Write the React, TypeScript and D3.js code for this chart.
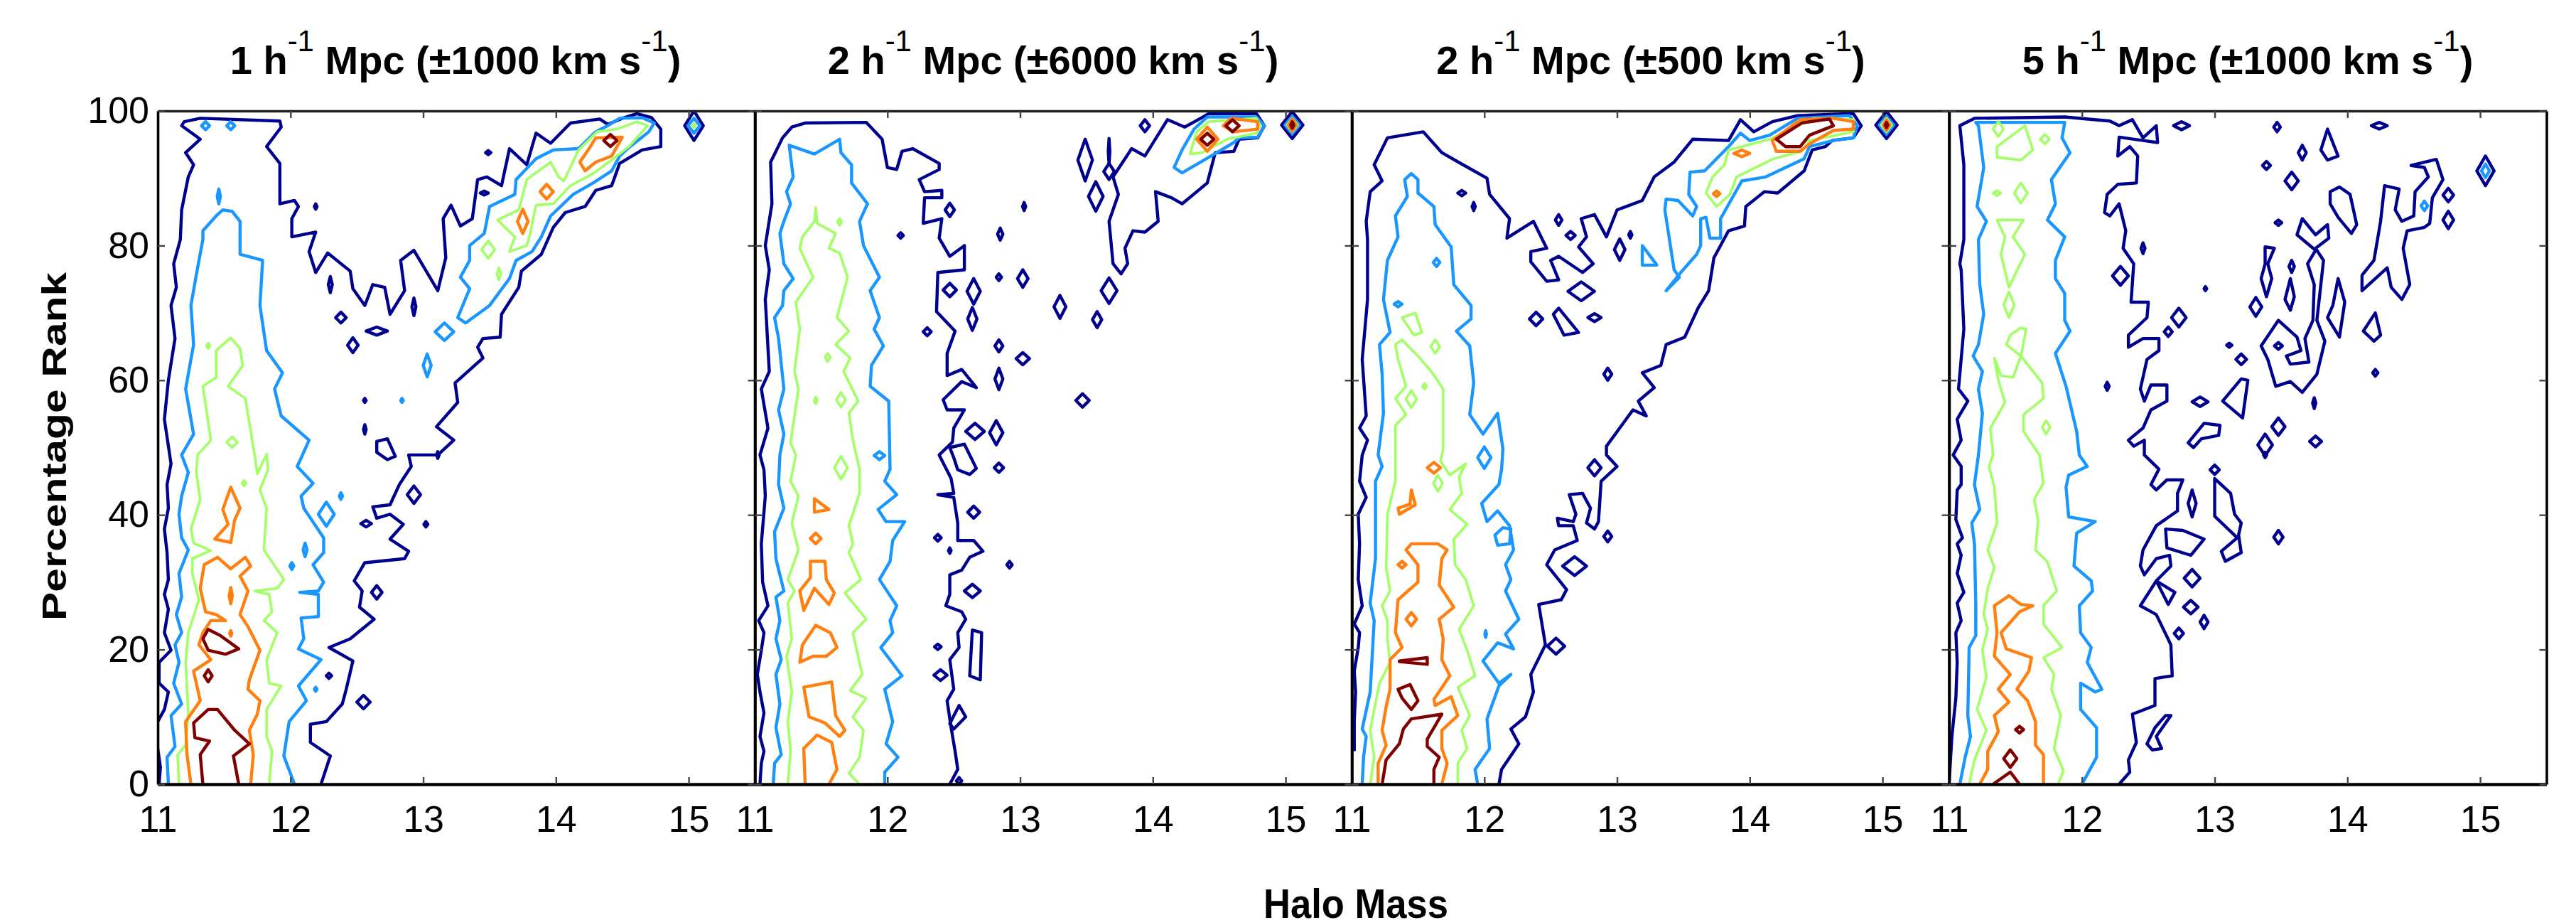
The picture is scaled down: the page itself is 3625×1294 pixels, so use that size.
import React, { useEffect, useRef } from 'react';
import * as d3 from 'd3';

// contour traces: flat [mass, rank, mass, rank, ...], spots: [mass, rank, halfMass, halfRank]
const levelColors = ['#00008f', '#1a96ff', '#a2ff66', '#ff7f10', '#800000'];
const massTicks = [11, 12, 13, 14, 15];
const rankTicks = [0, 20, 40, 60, 80, 100];
const titleHeads = ['1 h', '2 h', '2 h', '5 h'];
const titleTails = [' Mpc (±1000 km s', ' Mpc (±6000 km s', ' Mpc (±500 km s', ' Mpc (±1000 km s'];

// ---- panel 1
const p1NavyOpen = [
  [11.01,0, 11.02,2.5, 11.0,5.3],
  [11.0,9.3, 11.05,11.1, 11.08,13.7, 11.01,15, 11.01,18.1, 11.1,19.9, 11.05,22.5, 11.08,26, 11.05,28.2, 11.08,30.4, 11.07,34.4, 11.05,37.9, 11.08,41, 11.07,44.5, 11.1,47.6, 11.05,54.2, 11.08,60, 11.13,66.2, 11.1,71.1, 11.14,73.8, 11.12,77.3, 11.17,80.9, 11.18,85.3, 11.23,90.2, 11.27,92, 11.21,93.8, 11.32,95.8, 11.18,97.8, 11.2,98.4, 11.32,98.9, 11.92,98.5, 11.93,97.6, 11.82,94.7, 11.92,92.2, 11.92,86.2, 12.03,86.7, 12.06,85.8, 12.01,84, 12.01,81.3, 12.19,82, 12.14,79.1, 12.19,76, 12.28,78.9, 12.45,76.2, 12.47,73.6, 12.56,71.1, 12.62,74.2, 12.71,73.8, 12.75,69.8, 12.86,73.3, 12.83,77.8, 12.93,79.3, 13.11,73.3, 13.17,78.2, 13.15,84, 13.21,86, 13.28,82.9, 13.37,84, 13.41,89.8, 13.48,90.2, 13.59,88.9, 13.65,94.4, 13.78,92, 13.85,96.7, 13.96,95.2, 14.11,98.2, 14.33,98.8, 14.39,98, 14.5,98.9, 14.61,99.6, 14.72,99, 14.79,97.3, 14.79,94.7, 14.65,94.2, 14.48,92.2, 14.42,88.9, 14.3,88.2, 14.22,85.8, 14.07,84.9, 13.98,82.7, 13.89,78.7, 13.74,76.2, 13.72,73.8, 13.59,69.8, 13.58,66.4, 13.45,66.2, 13.41,64.9, 13.45,63.3, 13.24,59.6, 13.26,56.7, 13.1,53.1, 13.23,51.1, 13.11,48.9, 12.89,48.9, 12.91,47.2, 12.82,44.5, 12.75,41.5, 12.62,41.2, 12.65,39.5, 12.75,40.1, 12.85,38.6, 12.75,36.4, 12.89,34.6, 12.86,33.5, 12.56,32.9, 12.48,30.2, 12.54,28.7, 12.52,26.3, 12.63,24.5, 12.45,21.6, 12.29,20.3, 12.47,18.3, 12.42,14.1, 12.39,11.9, 12.27,9.3, 12.15,8.9, 12.15,6.2, 12.3,4.2, 12.23,0],
];
const p1NavyLoops = [[12.65,50.9, 12.73,51.3, 12.79,48.7, 12.73,48.2, 12.65,49.3]];
const p1NavySpots = [[13.49,93.8,.02,.3],[13.46,87.8,.03,.3],[12.19,85.8,.01,.4],[12.3,74.2,.015,1.2],[12.38,69.3,.04,.8],[12.65,67.3,.08,.6],[12.47,65.2,.04,1.1],[12.93,70.9,.015,1.3],[12.56,57,.01,.3],[12.56,52.7,.01,.7],[12.93,43,.05,1.3],[12.57,38.7,.04,.5],[13.02,38.6,.015,.4],[12.65,28.5,.04,1],[12.29,16.1,.02,.4],[12.55,12.2,.05,1],[13.11,48.9,.01,.5],[15.04,97.8,.07,2.2]];
const p1SkyOpen = [
  [11.08,0, 11.07,4, 11.13,5.6, 11.1,10.2, 11.18,11.9, 11.12,15, 11.16,18.1, 11.13,20.7, 11.18,22.5, 11.14,25.2, 11.18,27.8, 11.16,31.3, 11.23,34.8, 11.18,36.6, 11.16,40.1, 11.18,42.8, 11.23,46.3, 11.18,48.9, 11.27,52, 11.21,58.7, 11.27,65.3, 11.25,71.1, 11.29,75.6, 11.34,80.9, 11.34,82.2, 11.44,84.4, 11.49,85.3, 11.56,85.1, 11.62,83.6, 11.62,78.7, 11.79,77.8, 11.77,71.1, 11.82,64.4, 11.94,61.1, 11.88,58.7, 11.93,54.7, 12.14,51.1, 12.07,48, 12.05,47.2, 12.17,44.7, 12.08,42.8, 12.1,41, 12.25,36.6, 12.25,34.4, 12.17,32.6, 12.25,30, 12.21,28.7, 12.07,28.5, 12.21,28.2, 12.21,24.9, 12.08,24.7, 12.1,21.6, 12.06,20.1, 12.23,18.5, 12.06,14.6, 12.12,12.4, 11.99,9.3, 11.95,4.2, 12.03,0],
];
const p1SkyLoops = [[13.26,69.3, 13.32,68.5, 13.5,71.1, 13.65,75.1, 13.7,77.8, 13.82,79.1, 13.89,81.3, 13.96,84.4, 14.13,87.6, 14.28,89.3, 14.42,91.1, 14.48,93.3, 14.54,94.4, 14.7,96.9, 14.74,98.2, 14.65,99, 14.48,98.9, 14.39,97.8, 14.3,96.9, 14.17,94.4, 13.98,94.2, 13.85,92.9, 13.7,89.8, 13.69,87.6, 13.5,85.8, 13.46,81.8, 13.35,80, 13.35,77.8, 13.28,75.3, 13.35,73.6]];
const p1SkySpots = [[11.36,97.8,.03,.6],[11.55,97.8,.03,.6],[11.46,87.3,.012,1.1],[13.16,67.2,.07,1.3],[13.03,62.2,.03,1.7],[12.84,57,.01,.3],[12.38,42.8,.012,.5],[12.27,40.1,.06,1.8],[12.11,34.8,.015,1],[12.01,32.4,.015,.5],[12.19,14.1,.01,.3],[15.04,97.8,.045,1.1]];
const p1GreenOpen = [
  [11.16,0, 11.15,4.4, 11.21,5.8, 11.23,10.6, 11.21,18.1, 11.23,22.5, 11.31,27.4, 11.26,31.3, 11.26,33.5, 11.4,34.7, 11.27,35.8, 11.25,37.9, 11.32,42.3, 11.29,46.3, 11.3,48.9, 11.4,51.1, 11.34,59.1, 11.44,60.4, 11.44,64.4, 11.55,66.3, 11.62,64.7, 11.64,62.2, 11.53,59.1, 11.66,57.3, 11.73,48.9, 11.75,46.1, 11.82,49, 11.83,46.7, 11.77,43.7, 11.82,41, 11.8,34.8, 11.95,30.4, 11.9,29.1, 11.73,28.7, 11.84,28.2, 11.86,25.6, 11.8,24.3, 11.9,22.5, 11.82,18.5, 11.84,15, 11.93,14.6, 11.82,11.1, 11.82,7.1, 11.86,4.9, 11.84,0],
];
const p1GreenLoops = [[13.56,83.8, 13.72,85.3, 13.78,89.8, 13.96,92.4, 14.02,90.2, 14.06,89.6, 14.17,94.2, 14.31,96.9, 14.46,97.3, 14.61,98.4, 14.69,97.8, 14.55,94.7, 14.42,92.7, 14.28,90.7, 14.11,88.9, 13.98,86.2, 13.85,86, 13.8,81.3, 13.78,80, 13.65,79.1, 13.69,81.3]];
const p1GreenSpots = [[13.49,79.4,.05,1.3],[13.57,75.8,.015,.9],[11.38,65.1,.012,.4],[11.56,50.8,.04,.8],[11.65,44.7,.015,.4],[15.04,97.8,.01,.3]];
const p1OrangeOpen = [
  [11.25,0, 11.22,4.4, 11.21,9.3, 11.32,12.4, 11.27,16.8, 11.4,18.5, 11.31,20.7, 11.34,22.5, 11.4,24.3, 11.51,24.3, 11.44,25.2, 11.36,25.6, 11.32,29.1, 11.35,32.6, 11.45,33.7, 11.55,32, 11.66,33.7, 11.7,32.4, 11.62,30.9, 11.68,28.7, 11.62,25.2, 11.68,23.4, 11.77,19.9, 11.69,15.5, 11.68,14.1, 11.77,12.4, 11.75,10.4, 11.69,8, 11.72,4.4, 11.7,0],
];
const p1OrangeLoops = [
  [11.55,44.1, 11.62,41, 11.58,39.3, 11.55,35.9, 11.43,36.4, 11.53,38.6, 11.49,40.8],
  [14.3,96, 14.5,96.1, 14.42,93.3, 14.3,92.4, 14.22,91.1, 14.18,92.4, 14.26,94.7],
];
const p1OrangeSpots = [[11.55,28,.012,1.2],[11.55,22.4,.008,.4],[13.93,88,.05,1.1],[13.75,83.6,.04,1.8]];
const p1RedOpen = [[11.34,0, 11.32,4.4, 11.39,6.4, 11.28,6.9, 11.27,9.1, 11.38,11.1, 11.45,11.1, 11.58,8, 11.69,6, 11.57,4.2, 11.61,0]];
const p1RedLoops = [[11.38,23, 11.47,22.1, 11.61,20.1, 11.51,19.3, 11.38,19.9, 11.34,21.6]];
const p1RedSpots = [[14.41,95.6,.05,.9],[11.38,16.1,.03,.9]];

// ---- panel 2
const p2NavyOpen = [
  [11.04,0, 11.05,3.1, 11.07,4.9, 11.04,7.1, 11.07,10.6, 11.04,13.7, 11.02,16.3, 11.05,19.9, 11.07,22.5, 11.03,24.3, 11.1,26.5, 11.06,30, 11.05,35.7, 11.08,42.8, 11.07,46.7, 11.04,48.9, 11.1,52.9, 11.05,58.7, 11.11,61.3, 11.08,72, 11.11,76.4, 11.08,80, 11.13,86.2, 11.12,92.4, 11.21,96, 11.28,97.6, 11.38,98.2, 11.84,98.3, 11.96,95.8, 12,91.6, 12.07,91.3, 12.11,94, 12.19,94.4, 12.39,92.2, 12.39,91.3, 12.24,89.8, 12.28,88, 12.41,88.2, 12.41,87.1, 12.28,87.1, 12.27,83.3, 12.41,84, 12.39,81.1, 12.47,78.4, 12.58,80, 12.58,76.4, 12.38,76, 12.37,70.2, 12.51,67.3, 12.45,64, 12.45,60.7, 12.56,61.6, 12.67,58.9, 12.56,59.8, 12.42,57.1, 12.45,55.6, 12.58,55.6, 12.5,52.9, 12.49,50.8, 12.39,48.9, 12.48,45.4, 12.5,43.2, 12.38,43, 12.5,42.6, 12.53,38.8, 12.53,36.2, 12.65,36.2, 12.72,34.6, 12.62,33.7, 12.56,31.8, 12.47,31.1, 12.47,28.2, 12.44,26.5, 12.56,25.6, 12.59,24.5, 12.53,22.5, 12.54,20.3, 12.47,18.5, 12.5,14.1, 12.45,12.4, 12.48,8.4, 12.51,4.9, 12.53,2.2, 12.47,0],
];
const p2NavyLoops = [
  [13.76,75.8, 13.7,77.3, 13.67,83.6, 13.74,87.6, 13.7,90.2, 13.79,92.9, 13.84,94.4, 13.94,93.3, 14.11,98.7, 14.24,97.6, 14.36,98.9, 14.42,99.6, 14.78,99.6, 14.84,97.8, 14.79,96, 14.65,95.8, 14.61,94, 14.47,93.8, 14.41,89.3, 14.22,86.2, 14.14,87.1, 14.02,88, 14.04,83.6, 13.94,82, 13.85,82.2, 13.79,79.6, 13.81,77.3],
  [12.54,11.7, 12.59,10, 12.5,8.2, 12.47,9],
  [12.64,22.9, 12.71,22.5, 12.7,15.5, 12.62,16.1],
  [12.47,50, 12.58,50.5, 12.67,46.9, 12.62,46, 12.53,46.7, 12.5,48.5],
];
const p2NavySpots = [[12.54,.5,.02,.5],[13.94,97.8,.035,.9],[13.49,92.7,.055,3.1],[13.67,91,.04,1.2],[13.67,94,.006,1.9],[13.57,87.3,.055,2.2],[12.47,85.3,.035,1],[13.03,85.8,.012,.6],[12.1,81.5,.02,.4],[12.85,81.7,.02,.9],[12.84,75.3,.02,.5],[13.02,75.1,.04,1.3],[13.67,73.3,.06,1.9],[12.47,73.4,.05,1],[12.65,73.2,.05,1.9],[13.3,70.9,.045,1.7],[12.64,69.1,.035,1.7],[13.58,69,.035,1.2],[12.3,67.2,.03,.6],[12.84,65.1,.03,.9],[13.02,63.2,.05,.9],[12.84,60.2,.03,1.6],[13.47,57,.05,1],[12.66,52.4,.07,1.2],[12.82,52.2,.05,1.8],[12.84,47,.035,.7],[12.65,40.4,.045,.9],[12.38,36.6,.025,.5],[12.47,34.7,.01,.4],[12.92,32.6,.02,.5],[12.64,28.7,.06,1],[12.38,20.4,.025,.4],[12.4,16.2,.05,.8],[15.05,97.9,.08,2]];
const p2SkyOpen = [
  [11.14,0, 11.15,3.1, 11.2,4.4, 11.16,8.4, 11.19,11.9, 11.16,16.3, 11.2,18.5, 11.16,21.6, 11.19,24.3, 11.16,27.8, 11.22,28.7, 11.16,33.5, 11.15,37.5, 11.22,41, 11.18,44.5, 11.19,48.9, 11.22,52, 11.18,55.6, 11.22,58.7, 11.18,66.2, 11.15,69.3, 11.21,71.1, 11.22,73.3, 11.29,75.1, 11.22,77.3, 11.19,81.8, 11.22,83.6, 11.27,86.2, 11.24,88, 11.29,90.2, 11.26,94.9, 11.45,93.6, 11.64,95.8, 11.65,93.8, 11.73,92, 11.73,89.3, 11.85,86.2, 11.79,83.6, 11.82,80, 11.94,75.3, 11.87,73.3, 11.94,69.3, 11.9,67.6, 11.97,65.1, 11.88,62.2, 11.87,59.1, 12.01,56.9, 12.02,46.8, 11.98,45, 12.07,43, 11.93,40.8, 11.99,39, 12.13,39, 12.04,36.2, 12.02,33.1, 11.94,30.4, 12.07,26.5, 12.02,24.3, 12.04,22.5, 11.95,20.3, 12.11,16.1, 11.98,14.1, 12.04,9.3, 11.99,6, 12.08,4, 11.98,1.8, 11.98,0],
];
const p2SkyLoops = [[14.16,91.6, 14.22,90.8, 14.42,93.1, 14.61,95.3, 14.65,96, 14.79,96.1, 14.84,97.8, 14.78,99.1, 14.41,99.1, 14.31,97.3, 14.22,94.2]];
const p2SkySpots = [[11.94,48.8,.04,.6],[15.05,97.9,.055,1.3]];
const p2GreenOpen = [
  [11.25,0, 11.27,4.9, 11.25,9.3, 11.28,13.7, 11.24,19, 11.28,21.6, 11.25,26.9, 11.3,28.7, 11.25,30.4, 11.33,34.8, 11.28,38.8, 11.33,42.8, 11.27,45, 11.31,48.9, 11.27,50.7, 11.33,58.7, 11.3,61.3, 11.34,67.6, 11.31,71.6, 11.44,75.3, 11.34,79.6, 11.36,81.3, 11.45,83.6, 11.46,85.6, 11.47,83.3, 11.61,81.8, 11.56,79.6, 11.64,78.9, 11.7,75.3, 11.62,69.3, 11.71,67.3, 11.61,65.3, 11.72,63.3, 11.67,61.3, 11.78,56.9, 11.71,55.1, 11.74,51.1, 11.79,46.8, 11.79,43.2, 11.71,38.4, 11.74,35.7, 11.71,34.4, 11.8,30.4, 11.68,28.4, 11.84,24.5, 11.74,22.5, 11.81,16.3, 11.72,13.9, 11.84,12.8, 11.74,10, 11.82,8, 11.79,4, 11.71,1.6, 11.79,0],
];
const p2GreenLoops = [[14.28,93.6, 14.37,93.8, 14.56,95.8, 14.78,96.7, 14.81,97.8, 14.78,98.9, 14.42,98.4, 14.33,96.9]];
const p2GreenSpots = [[11.64,83.5,.015,.5],[11.55,63.4,.02,.6],[11.46,57,.012,.5],[11.65,57.1,.035,1.1],[11.65,47,.05,1.7],[15.05,97.9,.04,1]];
const p2OrangeOpen = [[11.38,0, 11.37,5.3, 11.47,7.3, 11.58,6.2, 11.62,2.2, 11.56,0]];
const p2OrangeLoops = [
  [14.53,97.8, 14.59,98.9, 14.79,98.4, 14.79,97.3, 14.61,96.9],
  [11.45,42.4, 11.56,40.8, 11.45,40.4],
  [11.42,33.1, 11.53,33.1, 11.54,30.4, 11.6,28.4, 11.56,26.7, 11.45,29.1, 11.37,25.8, 11.34,28.7, 11.42,30.7],
  [11.46,23.6, 11.57,22.5, 11.62,20.3, 11.54,19, 11.44,19, 11.34,18.1, 11.36,20.7],
  [11.37,14.4, 11.58,15.2, 11.61,10.2, 11.68,8, 11.64,7.1, 11.53,9.1, 11.41,10],
];
const p2OrangeSpots = [[14.41,95.8,.08,1.8],[11.46,36.5,.04,.8],[15.05,97.9,.03,.9]];
const p2RedSpots = [[14.41,95.8,.05,.9],[14.6,97.8,.05,.9],[15.05,97.9,.012,.5]];

// ---- panel 3
const p3NavyOpen = [
  [11.02,4.9, 11.02,9.3, 11.03,13.7, 11.02,16.8, 11.05,20.3, 11.06,22.5, 11.02,23.8, 11.08,26.5, 11.05,30.4, 11.06,35.7, 11.05,40.1, 11.11,42.6, 11.06,45, 11.08,48.9, 11.12,51.1, 11.06,52.9, 11.11,54.7, 11.08,63.1, 11.12,72, 11.12,80.9, 11.11,83.6, 11.14,88, 11.23,89.6, 11.17,92, 11.27,96, 11.54,96.9, 11.68,93.8, 11.84,92, 12.02,90, 12.04,87.6, 12.19,84, 12.17,81.1, 12.37,83.6, 12.47,79.6, 12.35,79.1, 12.35,77.6, 12.47,74.7, 12.56,74.9, 12.5,77.8, 12.56,78.4, 12.74,76, 12.82,77.3, 12.71,79.8, 12.77,81.3, 12.73,84, 12.83,84.6, 12.92,81.3, 13,85.3, 13.19,86.7, 13.28,90.2, 13.43,92.4, 13.57,95.8, 13.84,95.6, 13.93,98.7, 14.03,96.9, 14.17,98.4, 14.36,99.3, 14.78,99.6, 14.84,97.8, 14.78,96, 14.62,95.6, 14.57,94.7, 14.47,94.2, 14.41,91.1, 14.21,87.8, 14.11,88, 13.97,85.8, 13.96,82.9, 13.84,82.2, 13.73,78.2, 13.69,73.3, 13.61,70.7, 13.51,66.4, 13.37,65.3, 13.33,62.2, 13.19,61.1, 13.28,58.9, 13.16,56.9, 13.22,54.7, 13.12,55.6, 12.92,50.2, 12.92,48.9, 13,47.2, 12.88,45, 12.86,39, 12.83,37.9, 12.77,38.8, 12.8,41, 12.74,43.2, 12.64,43, 12.69,40.1, 12.67,39, 12.55,39.5, 12.56,38.4, 12.67,38.4, 12.7,36.2, 12.53,34.8, 12.47,32.6, 12.62,28.9, 12.58,27.4, 12.41,26.7, 12.46,20.7, 12.35,16.3, 12.37,13.7, 12.31,10, 12.2,8.2, 12.26,6, 12.13,2.2, 12.11,0],
];
const p3NavyLoops = [[12.52,69.8, 12.56,70.7, 12.71,67.1, 12.6,66.7]];
const p3NavySpots = [[12.54,20.5,.065,1.2],[11.83,87.8,.03,.4],[11.92,85.8,.012,.6],[12.56,83.8,.025,.8],[12.65,81.5,.035,.6],[13.1,81.6,.012,.5],[13.02,79.4,.04,1.6],[12.73,73.2,.1,1.4],[12.39,69.1,.05,1],[12.83,69.3,.05,.6],[12.93,60.9,.03,.9],[12.83,47,.05,1.2],[12.93,36.8,.03,.8],[12.68,32.4,.09,1.4],[15.03,97.9,.08,2]];
const p3SkyOpen = [
  [11.08,0, 11.09,4, 11.11,7.1, 11.08,8.2, 11.14,13.7, 11.17,24.3, 11.14,26.9, 11.18,33.5, 11.18,40.1, 11.18,45, 11.23,47.2, 11.2,48.9, 11.24,55.1, 11.23,60.9, 11.21,65.3, 11.29,67.1, 11.24,72, 11.27,77.8, 11.35,81.3, 11.33,84.4, 11.42,87.3, 11.4,89.8, 11.45,90.7, 11.5,89.8, 11.5,87.8, 11.62,85.8, 11.63,83.1, 11.75,79.8, 11.77,74.2, 11.9,71.1, 11.9,69.1, 11.79,67.3, 11.89,65.1, 11.92,59.6, 11.89,54.9, 11.99,52, 12.1,55.1, 12.14,49.8, 12.13,46.8, 12.11,44.5, 11.98,41.7, 12.02,39, 12.1,40.6, 12.19,38.4, 12.22,34.8, 12.16,32.6, 12.2,30.4, 12.16,28.7, 12.26,24.5, 12.16,22.3, 12.22,20.1, 12.1,21, 11.99,18.3, 12.11,15, 12.2,16.3, 12.11,14.6, 12.02,9.7, 12.04,5.3, 11.93,2.2, 11.95,0],
];
const p3SkyLoops = [
  [13.37,73.3, 13.48,76, 13.6,78.7, 13.63,80, 13.63,84, 13.67,84.2, 13.7,81.1, 13.78,81.1, 13.78,84, 13.94,89.6, 14.12,90.2, 14.41,92.9, 14.45,94.7, 14.63,95.6, 14.78,96, 14.81,97.8, 14.75,99.3, 14.36,98.9, 14.15,96.4, 14,95.6, 13.93,96.7, 13.84,94.7, 13.66,91.1, 13.55,90.9, 13.54,87.6, 13.6,85.8, 13.57,84.4, 13.46,86.7, 13.37,86.9, 13.36,85.3, 13.43,76.4, 13.47,75.3],
  [13.19,80, 13.3,77.1, 13.19,77.1],
  [12.08,37, 12.14,38.1, 12.2,37.9, 12.19,35.7, 12.1,35.5],
];
const p3SkySpots = [[11.64,77.5,.025,.6],[11.35,71.3,.03,.4],[12,48.5,.05,1.6],[12.01,22.3,.006,.5],[15.03,97.9,.055,1.3]];
const p3GreenOpen = [
  [11.14,0, 11.17,4, 11.14,8, 11.21,15, 11.29,18.1, 11.27,21.6, 11.27,24.3, 11.23,26.5, 11.29,28.7, 11.26,32.2, 11.27,40.1, 11.33,45, 11.33,48.9, 11.33,53.3, 11.41,54.9, 11.33,57.3, 11.41,59.1, 11.35,63.1, 11.33,65.3, 11.38,66, 11.5,63.6, 11.6,61.3, 11.69,58.7, 11.69,49.8, 11.67,48, 11.74,45.9, 11.86,47.6, 11.81,45.6, 11.83,43.2, 11.74,40.8, 11.87,38.6, 11.77,36.4, 11.78,32.6, 11.86,30.4, 11.92,26.5, 11.81,23, 11.87,19.9, 11.93,16.1, 11.8,14.4, 11.89,10.2, 11.83,8, 11.87,5.3, 11.8,3.1, 11.8,0],
];
const p3GreenLoops = [
  [13.67,87.8, 13.75,85.8, 13.85,87.6, 13.9,90.2, 14.18,92.9, 14.39,94, 14.45,95.6, 14.78,96.9, 14.78,98.7, 14.48,98.9, 14.15,95.8, 13.84,94.2, 13.81,92, 13.72,90.2],
  [11.38,69.3, 11.48,70, 11.53,67.1, 11.47,66.7],
];
const p3GreenSpots = [[11.63,65,.035,1],[11.55,59.1,.015,.4],[11.45,57.2,.04,1.3],[11.65,44.7,.035,1.2],[15.03,97.9,.04,1]];
const p3OrangeOpen = [
  [11.68,0, 11.72,3.1, 11.68,5.3, 11.68,8, 11.8,10.2, 11.75,13, 11.63,11.7, 11.62,12.6, 11.74,16.1, 11.68,18.5, 11.69,21.6, 11.66,24.5, 11.77,26.3, 11.66,29.6, 11.68,33.5, 11.72,34.8, 11.65,35.7, 11.45,35.7, 11.41,34.8, 11.5,32.6, 11.5,30, 11.35,27.4, 11.33,22.5, 11.38,20.3, 11.29,18.5, 11.29,14.1, 11.26,11.5, 11.23,8, 11.26,5.8, 11.2,3.1, 11.2,0],
];
const p3OrangeLoops = [
  [14.17,95.6, 14.38,98.7, 14.63,98.9, 14.78,98.4, 14.78,97.3, 14.63,97.1, 14.45,95.1, 14.38,94, 14.2,94],
  [11.45,43.7, 11.48,41.5, 11.36,40.1, 11.35,41, 11.44,41.6],
];
const p3OrangeSpots = [[13.94,93.7,.06,.5],[13.75,87.7,.025,.4],[11.62,47,.05,.8],[11.38,32.6,.03,.5],[11.45,24.5,.04,1],[15.03,97.9,.025,.8]];
const p3RedOpen = [[11.23,0, 11.26,3.6, 11.36,6, 11.39,8.2, 11.45,9.7, 11.68,10.4, 11.57,6.7, 11.57,5.6, 11.66,4, 11.62,2.2, 11.62,0]];
const p3RedLoops = [
  [14.2,95.8, 14.39,98.2, 14.6,98.8, 14.63,97.8, 14.45,96.4, 14.38,94.7, 14.27,94.7],
  [11.36,18.3, 11.57,18.8, 11.57,17.8, 11.36,18.2],
  [11.35,14.1, 11.44,14.8, 11.5,12.4, 11.45,11.1, 11.38,12.8],
];
const p3RedSpots = [[15.03,97.9,.01,.4]];

// ---- panel 4
const p4NavyOpen = [
  [11,.5, 11.02,7.1, 11.05,12.8, 11.06,18.1, 11.05,22.5, 11.09,24.3, 11.06,26.9, 11.11,28.5, 11.06,31.3, 11.09,34, 11.06,35.7, 11.1,36.6, 11.05,39.3, 11.06,43.7, 11.09,44.5, 11.09,47.2, 11.03,48.9, 11.09,51.1, 11.06,54.2, 11.14,56.9, 11.07,58.7, 11.11,67.6, 11.09,76.4, 11.08,77.3, 11.11,80.9, 11.11,92, 11.08,97.8, 11.19,98.9, 11.87,99.1, 12.21,98.5, 12.28,97.8, 12.38,98.7, 12.46,96, 12.56,97.8, 12.57,95.3, 12.46,95.6, 12.28,96.1, 12.27,93.3, 12.36,94.7, 12.42,93.3, 12.41,89.3, 12.27,89.1, 12.19,87.6, 12.17,84.9, 12.21,84.4, 12.28,86.2, 12.33,82.2, 12.31,79.6, 12.39,77.3, 12.37,71.6, 12.5,71.6, 12.49,69.3, 12.35,66.7, 12.35,64.9, 12.46,66.2, 12.58,66.2, 12.58,64.4, 12.49,63.1, 12.44,58.7, 12.47,56.9, 12.52,59.3, 12.64,59.3, 12.64,56.9, 12.52,55.6, 12.46,52.9, 12.35,51.1, 12.39,50.2, 12.47,51.1, 12.47,48.9, 12.58,46.8, 12.52,44.5, 12.56,43.7, 12.64,45.2, 12.76,45.2, 12.72,43.2, 12.72,40.6, 12.56,38.4, 12.46,34.8, 12.44,32.4, 12.47,31.1, 12.56,33.5, 12.66,34, 12.67,32.4, 12.56,30.2, 12.44,26.5, 12.56,25.2, 12.67,20.7, 12.68,16.1, 12.55,15.7, 12.55,11.7, 12.38,10.4, 12.41,6.2, 12.35,3.6, 12.36,1.8, 12.28,0],
];
const p4NavyLoops = [
  [12.63,37.9, 12.76,37.7, 12.92,36.4, 12.82,34, 12.64,35.1],
  [12.56,30.2, 12.7,28.5, 12.65,26.7],
  [12.63,10.2, 12.67,10.2, 12.56,7.1, 12.6,5.3, 12.53,5.1, 12.49,6, 12.55,8.4],
  [13,45.4, 13.12,43.2, 13.15,40.1, 13.2,38.8, 13.18,37, 13.2,34.4, 13.08,33.1, 13.05,34.6, 13.17,36.6, 13,39.8],
  [14.48,91.9, 14.67,92.8, 14.72,89.8, 14.64,87.1, 14.62,83.3, 14.58,82.7, 14.45,82.2, 14.42,79.6, 14.47,74.2, 14.41,72, 14.33,73.8, 14.3,76.7, 14.11,73.3, 14.11,75.6, 14.2,77.8, 14.25,83.6, 14.28,88.9, 14.39,88.4, 14.36,85.3, 14.41,83.6, 14.5,84.4, 14.51,88, 14.61,90.2, 14.58,91.6],
  [13.94,88.7, 14.02,87.6, 14.07,83.1, 14.03,81.8, 13.93,84.2, 13.87,86.2, 13.87,88],
  [13.85,97.3, 13.93,93.3, 13.85,92.7, 13.8,94.2],
  [13.66,84, 13.76,81.6, 13.85,83.1, 13.86,81.1, 13.76,79.6, 13.82,77.8, 13.77,68.9, 13.83,65.8, 13.77,60.9, 13.66,58.2, 13.57,59.8, 13.46,59.1, 13.4,63.1, 13.35,65.1, 13.48,68.9, 13.62,66.4, 13.65,64.4, 13.54,63.6, 13.57,62.4, 13.71,62.7, 13.68,66.2, 13.74,68.9, 13.75,74.2, 13.7,77.3, 13.76,79.3, 13.62,81.6],
  [13.38,79.8, 13.45,79.6, 13.4,77.3, 13.43,75.1, 13.39,72.4, 13.35,75.1, 13.38,77.3],
  [13.57,75.1, 13.6,72.4, 13.57,70.4, 13.53,72],
  [13.93,75.1, 13.98,71.6, 13.94,66.4, 13.85,69.3, 13.89,71.1],
  [14.21,70, 14.25,66.7, 14.2,65.8, 14.12,67.3],
  [13.2,60.2, 13.25,60, 13.21,54.4, 13.06,56.9],
  [12.92,53.6, 13.04,53.3, 13.03,51.8, 12.9,51.3, 12.84,50, 12.8,50.7],
];
const p4NavySpots = [[12.83,41.7,.03,2],[12.75,97.8,.06,.6],[13.47,97.6,.025,.7],[14.24,97.8,.06,.5],[13.66,93.8,.03,1.1],[13.39,91.9,.03,.6],[13.58,89.6,.05,1.3],[14.76,87.5,.04,1],[14.76,83.8,.04,1.3],[13.48,83.4,.025,.4],[12.46,79.6,.015,.8],[12.29,75.5,.06,1.4],[13.58,76.9,.02,.9],[12.93,73.6,.01,.3],[13.31,70.9,.045,1.4],[12.73,69.3,.055,1.4],[12.65,67.2,.03,.7],[13.48,65.1,.03,.5],[13.11,65.2,.02,.3],[13.2,63.1,.04,.8],[14.21,61.1,.02,.5],[12.19,59.1,.015,.6],[12.89,56.8,.06,.7],[13.75,56.6,.012,.8],[13.48,53.1,.05,1.3],[13.38,50.4,.055,1.6],[13.76,50.9,.045,.8],[13,46.7,.035,.7],[13.48,36.7,.035,1],[12.83,30.6,.06,1.3],[12.82,26.3,.055,1],[12.92,24.1,.03,1],[12.73,22.4,.035,.8],[13.38,48.9,.012,.4],[15.04,91.1,.065,2.2]];
const p4SkyOpen = [
  [11.08,0, 11.12,4, 11.16,7.1, 11.14,10.2, 11.15,20.3, 11.2,22.1, 11.2,26.9, 11.19,35.7, 11.17,38.8, 11.23,40.8, 11.19,44.5, 11.22,48.9, 11.25,55.1, 11.22,58.7, 11.25,61.3, 11.18,63.6, 11.22,65.3, 11.26,69.8, 11.23,74.2, 11.22,80.9, 11.28,83.6, 11.21,85.8, 11.26,91.6, 11.22,97.8, 11.2,98.3, 11.87,98.3, 11.85,96, 11.91,93.8, 11.77,89.8, 11.8,86.2, 11.74,83.8, 11.87,81.3, 11.8,77.8, 11.8,75.1, 11.87,72.9, 11.87,68.9, 11.91,67.3, 11.8,64, 11.88,59.1, 11.96,52.4, 11.98,48.9, 12.04,47.2, 11.9,45.9, 11.88,44.1, 11.9,39.7, 12.1,39, 11.96,37.3, 11.94,32.4, 12.07,30.2, 12.08,28.7, 11.98,26.5, 11.99,22.5, 12.07,20.3, 12.04,18.1, 12.15,14.1, 12.1,13.7, 11.99,15, 11.99,11.1, 12.11,8.4, 12.11,4, 12,0],
];
const p4SkySpots = [[15.04,91.1,.03,1],[14.58,85.9,.025,.7]];
const p4GreenOpen = [
  [11.15,0, 11.19,3.6, 11.28,8, 11.21,11.1, 11.28,15.9, 11.25,19.9, 11.29,23, 11.26,25.2, 11.29,29.1, 11.34,32.2, 11.29,34.8, 11.36,38.8, 11.34,44.1, 11.3,47.2, 11.33,48.9, 11.31,52.9, 11.42,56.7, 11.37,60, 11.34,63.3, 11.39,60.7, 11.48,60.4, 11.54,63.6, 11.7,59.6, 11.71,57.3, 11.56,54.9, 11.56,52.4, 11.68,48.9, 11.71,44.7, 11.64,42.3, 11.67,39.2, 11.65,34.8, 11.74,33, 11.81,28.7, 11.71,26.5, 11.71,23.8, 11.85,20.3, 11.71,18.8, 11.79,16.3, 11.77,14.1, 11.84,10.2, 11.79,5.3, 11.86,2, 11.82,0],
];
const p4GreenLoops = [
  [11.54,67.8, 11.58,67.6, 11.54,63.6, 11.43,65.3, 11.46,66.7],
  [11.57,97.8, 11.63,94.2, 11.54,92.7, 11.36,93.1, 11.36,94.7, 11.51,96.9],
  [11.36,83.8, 11.56,83.8, 11.48,81.3, 11.57,78.7, 11.45,73.8, 11.39,78.7, 11.42,81.3],
];
const p4GreenSpots = [[11.37,97.3,.04,1.1],[11.72,95.8,.035,.7],[11.54,87.8,.05,1.5],[11.36,87.8,.03,.4],[11.45,71.2,.04,1.9],[11.73,53,.03,1]];
const p4OrangeOpen = [
  [11.71,0, 11.71,4.4, 11.65,5.8, 11.65,9.3, 11.59,12.4, 11.51,14.1, 11.6,16.8, 11.62,18.8, 11.43,20.1, 11.39,22.5, 11.53,25.6, 11.63,26.5, 11.54,26.7, 11.45,28, 11.34,26.5, 11.36,22.5, 11.34,19, 11.46,16.3, 11.37,14.1, 11.45,12.2, 11.34,10.2, 11.37,7.8, 11.29,4.9, 11.29,2.2, 11.23,0],
];
const p4RedOpen = [[11.33,0, 11.46,1.8, 11.53,0]];
const p4RedSpots = [[11.53,8.1,.03,.5],[11.46,3.8,.05,1.3]];

const panelLevels = [
  [[p1NavyOpen, p1NavyLoops, p1NavySpots], [p1SkyOpen, p1SkyLoops, p1SkySpots], [p1GreenOpen, p1GreenLoops, p1GreenSpots], [p1OrangeOpen, p1OrangeLoops, p1OrangeSpots], [p1RedOpen, p1RedLoops, p1RedSpots]],
  [[p2NavyOpen, p2NavyLoops, p2NavySpots], [p2SkyOpen, p2SkyLoops, p2SkySpots], [p2GreenOpen, p2GreenLoops, p2GreenSpots], [p2OrangeOpen, p2OrangeLoops, p2OrangeSpots], [[], [], p2RedSpots]],
  [[p3NavyOpen, p3NavyLoops, p3NavySpots], [p3SkyOpen, p3SkyLoops, p3SkySpots], [p3GreenOpen, p3GreenLoops, p3GreenSpots], [p3OrangeOpen, p3OrangeLoops, p3OrangeSpots], [p3RedOpen, p3RedLoops, p3RedSpots]],
  [[p4NavyOpen, p4NavyLoops, p4NavySpots], [p4SkyOpen, [], p4SkySpots], [p4GreenOpen, p4GreenLoops, p4GreenSpots], [p4OrangeOpen, [], []], [p4RedOpen, [], p4RedSpots]],
];

const FONT = '"Liberation Sans", Arial, sans-serif';
const panelLefts = [222, 1062, 1902, 2743];
const panelWidth = 840.5;
const top = 156, bottom = 1103;
const titleCenters = [641, 1482, 2323, 3163];

const pairs = (flat: number[]) => d3.range(0, flat.length, 2).map(i => [flat[i], flat[i + 1]]);
const diamond = ([m, r, dm, dr]: number[]) => [[m - dm, r], [m, r + dr], [m + dm, r], [m, r - dr]];

export default function App() {
  const ref = useRef<SVGSVGElement>(null);

  useEffect(() => {
    const svg = d3.select(ref.current);
    svg.selectAll('*').remove();

    const y = d3.scaleLinear().domain([0, 100]).range([bottom, top]);

    panelLefts.forEach((left, p) => {
      const x = d3.scaleLinear().domain([11, 15.5]).range([left, left + panelWidth]);
      const openLine = d3.line<number[]>().x(d => x(d[0])).y(d => y(d[1]));
      const closedLine = d3.line<number[]>().x(d => x(d[0])).y(d => y(d[1])).curve(d3.curveLinearClosed);

      svg.append('clipPath').attr('id', `clip${p}`).append('rect')
        .attr('x', left).attr('y', top).attr('width', panelWidth).attr('height', bottom - top);

      const marks = svg.append('g').attr('clip-path', `url(#clip${p})`)
        .attr('fill', 'none').attr('stroke-linejoin', 'round');

      panelLevels[p].forEach(([open, loops, spots], k) => {
        const g = marks.append('g').attr('stroke', levelColors[k]).attr('stroke-width', k === 2 ? 3.6 : 4.4);
        g.selectAll('path.open').data(open as number[][]).join('path').attr('class', 'open')
          .attr('d', d => openLine(pairs(d)));
        g.selectAll('path.loop').data(loops as number[][]).join('path').attr('class', 'loop')
          .attr('d', d => closedLine(pairs(d)));
        g.selectAll('path.spot').data(spots as number[][]).join('path').attr('class', 'spot')
          .attr('d', d => closedLine(diamond(d)));
      });

      // frame and ticks, inward on all four sides
      const axes = [
        d3.axisBottom(x).tickValues(massTicks).tickSize(-10).tickSizeOuter(0).tickPadding(30).tickFormat(d3.format('d')),
        d3.axisTop(x).tickValues(massTicks).tickSize(-10).tickSizeOuter(0).tickFormat(() => ''),
        d3.axisLeft(y).tickValues(rankTicks).tickSize(-10).tickSizeOuter(0).tickPadding(12).tickFormat(p === 0 ? d3.format('d') : () => ''),
        d3.axisRight(y).tickValues(rankTicks).tickSize(-10).tickSizeOuter(0).tickFormat(() => ''),
      ];
      const shifts = [[0, bottom], [0, top], [left, 0], [left + panelWidth, 0]];
      axes.forEach((axis, a) => {
        const g = svg.append('g')
          .attr('transform', `translate(${shifts[a][0]},${shifts[a][1]})`)
          .call(axis as any);
        g.selectAll('.domain').attr('stroke', a === 1 ? '#222' : '#000').attr('stroke-width', a === 0 ? 4.5 : 3.6);
        g.selectAll('.tick line').attr('stroke', '#444').attr('stroke-width', 2.4);
        g.selectAll('.tick text').attr('font-family', FONT).attr('font-size', 52).attr('fill', '#000');
        g.attr('font-size', 52).attr('font-family', FONT);
      });

      // title with the two superscripts
      const title = svg.append('text').attr('x', titleCenters[p]).attr('y', 104)
        .attr('text-anchor', 'middle').attr('font-family', FONT).attr('font-weight', 'bold').attr('font-size', 56);
      const sup = (dy: number) => title.append('tspan').attr('dy', dy).attr('font-size', 42).attr('font-weight', 'normal').text('-1');
      title.append('tspan').text(titleHeads[p]);
      sup(-32);
      title.append('tspan').attr('dy', 32).text(titleTails[p]);
      sup(-32);
      title.append('tspan').attr('dy', 32).text(')');
    });

    svg.append('text')
      .attr('transform', 'translate(93,628) rotate(-90)')
      .attr('text-anchor', 'middle').attr('font-family', FONT).attr('font-weight', 'bold').attr('font-size', 48)
      .attr('textLength', 490).attr('lengthAdjust', 'spacingAndGlyphs')
      .text('Percentage Rank');

    svg.append('text')
      .attr('x', 1908).attr('y', 1291)
      .attr('text-anchor', 'middle').attr('font-family', FONT).attr('font-weight', 'bold').attr('font-size', 58)
      .attr('textLength', 260).attr('lengthAdjust', 'spacingAndGlyphs')
      .text('Halo Mass');
  }, []);

  return <svg ref={ref} width={3625} height={1294} style={{ position: 'absolute', left: 0, top: 0, display: 'block', background: '#fff' }} />;
}
